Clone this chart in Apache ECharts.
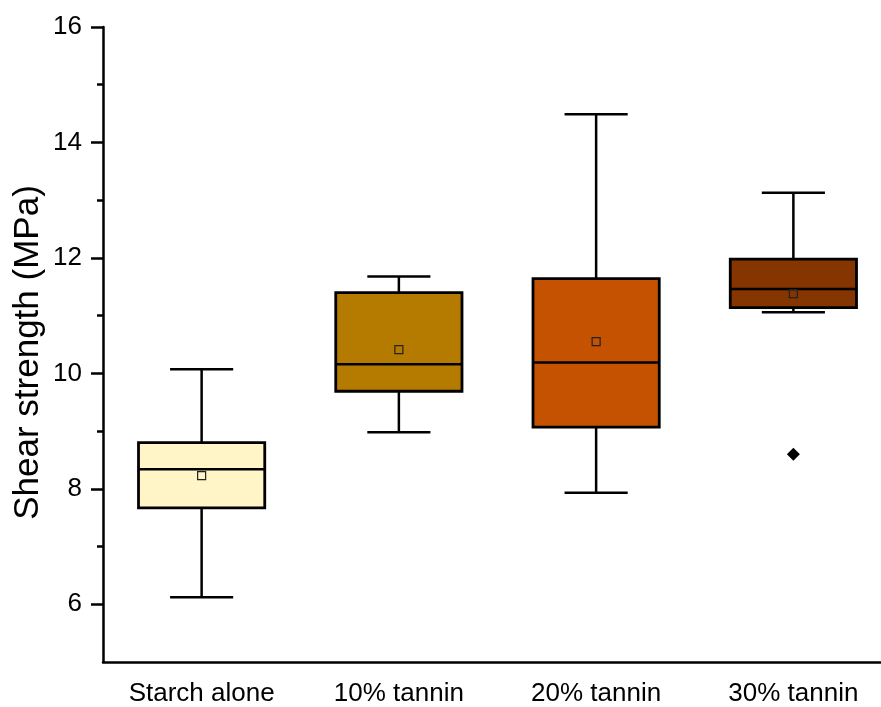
<!DOCTYPE html>
<html>
<head>
<meta charset="utf-8">
<script src="https://cdn.jsdelivr.net/npm/echarts@6/dist/echarts.min.js"></script>
<style>
  html, body { margin: 0; padding: 0; background: #ffffff; }
  #chart { width: 881px; height: 707px; }
</style>
</head>
<body>
<div id="chart"></div>
<script>
// Shear strength of starch adhesives with increasing tannin content
const categories = ['Starch alone', '10% tannin', '20% tannin', '30% tannin'];
const whiskerLow  = [6.12, 8.98, 7.93, 11.06];
const q1          = [7.67, 9.69, 9.07, 11.14];
const median      = [8.34, 10.16, 10.19, 11.46];
const q3          = [8.80, 11.40, 11.64, 11.98];
const whiskerHigh = [10.07, 11.68, 14.49, 13.13];
const means       = [8.23, 10.41, 10.55, 11.38];
const outliers    = [[3, 8.60]];

// y axis tick values (labelled majors, unlabelled minors)
const majorTicks = [6, 8, 10, 12, 14, 16];
const minorTicks = [7, 9, 11, 13, 15];

// fill colour of each box
const boxColors = ['#FFF5C6', '#B47B00', '#C55200', '#843500'];

const FONT = 'Liberation Sans, Arial, sans-serif';
const INK = '#000000';

function renderBox(params, api) {
  const i = api.value(0);
  const pLow  = api.coord([i, api.value(1)]);
  const pQ1   = api.coord([i, api.value(2)]);
  const pMed  = api.coord([i, api.value(3)]);
  const pQ3   = api.coord([i, api.value(4)]);
  const pHigh = api.coord([i, api.value(5)]);
  const bw = api.size([1, 0])[0] * 0.64;
  const cw = bw * 0.5;
  const cx = pMed[0];
  const line = { stroke: INK, lineWidth: 2.5 };
  return {
    type: 'group',
    children: [
      { type: 'line', shape: { x1: cx, y1: pHigh[1], x2: cx, y2: pQ3[1] }, style: line },
      { type: 'line', shape: { x1: cx, y1: pQ1[1], x2: cx, y2: pLow[1] }, style: line },
      { type: 'line', shape: { x1: cx - cw / 2, y1: pHigh[1], x2: cx + cw / 2, y2: pHigh[1] }, style: line },
      { type: 'line', shape: { x1: cx - cw / 2, y1: pLow[1], x2: cx + cw / 2, y2: pLow[1] }, style: line },
      { type: 'rect', shape: { x: cx - bw / 2, y: pQ3[1], width: bw, height: pQ1[1] - pQ3[1] },
        style: { fill: boxColors[params.dataIndex], stroke: INK, lineWidth: 2.8 } },
      { type: 'line', shape: { x1: cx - bw / 2, y1: pMed[1], x2: cx + bw / 2, y2: pMed[1] }, style: line }
    ]
  };
}

const chart = echarts.init(document.getElementById('chart'), null, { renderer: 'canvas' });

chart.setOption({
  animation: false,
  backgroundColor: '#ffffff',
  // plot area runs a little past the right edge of the canvas
  grid: { left: 103, right: -11, top: 27, bottom: 45, outerBoundsMode: 'none', containLabel: false },
  xAxis: {
    type: 'category',
    data: categories,
    boundaryGap: true,
    axisLine: { lineStyle: { color: INK, width: 2.5 } },
    axisTick: { alignWithLabel: true, length: 11, lineStyle: { color: INK, width: 2.5 } },
    axisLabel: { color: INK, fontSize: 26, fontFamily: FONT, margin: 19, interval: 0 },
    splitLine: { show: false }
  },
  yAxis: [
    {
      type: 'value',
      min: 5,
      max: 16,
      position: 'left',
      name: 'Shear strength (MPa)',
      nameLocation: 'middle',
      nameGap: 57,
      nameMoveOverlap: false,
      nameTextStyle: { color: INK, fontSize: 35, fontFamily: FONT, padding: [0, 16, 0, 0] },
      axisLine: { show: true, lineStyle: { color: INK, width: 2.5 } },
      axisTick: { show: true, customValues: majorTicks, length: 12, lineStyle: { color: INK, width: 2.5 } },
      axisLabel: { show: true, customValues: majorTicks, color: INK, fontSize: 26, fontFamily: FONT, margin: 21 },
      splitLine: { show: false }
    },
    {
      type: 'value',
      min: 5,
      max: 16,
      position: 'left',
      axisLine: { show: false },
      axisTick: { show: true, customValues: minorTicks, length: 6, lineStyle: { color: INK, width: 2.5 } },
      axisLabel: { show: false },
      splitLine: { show: false }
    }
  ],
  series: [
    {
      type: 'custom',
      name: 'boxes',
      renderItem: renderBox,
      encode: { x: 0, y: [1, 2, 3, 4, 5] },
      data: categories.map((c, i) => [i, whiskerLow[i], q1[i], median[i], q3[i], whiskerHigh[i]]),
      z: 2
    },
    {
      type: 'scatter',
      name: 'mean',
      symbol: 'rect',
      symbolSize: 8,
      itemStyle: { color: 'rgba(0,0,0,0)', borderColor: '#222222', borderWidth: 1.2, opacity: 1 },
      data: means.map((m, i) => [i, m]),
      z: 3
    },
    {
      type: 'scatter',
      name: 'outlier',
      symbol: 'diamond',
      symbolSize: 13,
      itemStyle: { color: INK, opacity: 1 },
      data: outliers,
      z: 3
    }
  ]
});
</script>
</body>
</html>
